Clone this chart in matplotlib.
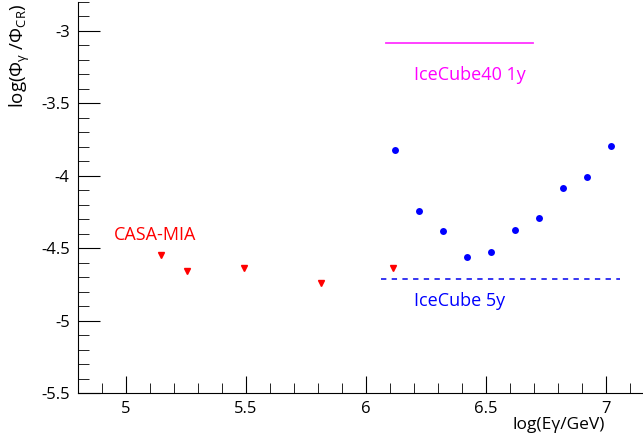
import matplotlib
matplotlib.use("Agg")
import matplotlib.pyplot as plt
from matplotlib.ticker import MultipleLocator, FormatStrFormatter

plt.rcParams['font.family'] = ['Open Sans', 'DejaVu Sans']
plt.rcParams['axes.unicode_minus'] = False
plt.rcParams['mathtext.fontset'] = 'custom'
plt.rcParams['mathtext.rm'] = 'Open Sans'
plt.rcParams['mathtext.it'] = 'Open Sans'

# IceCube (blue circles)
ic_x = [6.12, 6.22, 6.32, 6.42, 6.52, 6.62, 6.72, 6.82, 6.92, 7.02]
ic_y = [-3.82, -4.244, -4.378, -4.558, -4.528, -4.375, -4.291, -4.083, -4.006, -3.795]

# CASA-MIA (red down triangles)
casa_x = [5.146, 5.255, 5.492, 5.8125, 6.114]
casa_y = [-4.549, -4.655, -4.634, -4.741, -4.634]

# IceCube40 1y (magenta line)
ic40_x = [6.083, 6.696]
ic40_y = [-3.086, -3.086]

# IceCube 5y (blue dashed)
ic5_x = [6.0625, 7.06]
ic5_y = [-4.713, -4.713]

fig = plt.figure(figsize=(6.43, 4.43), dpi=100)
ax = fig.add_axes([78/643, 50/443, 1 - 78/643, 391/443])

ax.plot(ic40_x, ic40_y, color='#ff33ff', lw=1.3)
ax.plot(ic5_x, ic5_y, color='#0000ee', lw=1.1, ls=(0, (3.5, 3.5)))
ax.plot(casa_x, casa_y, ls='none', marker='v', color='#ff0000', ms=4.5)
ax.plot(ic_x, ic_y, ls='none', marker='o', color='#0000ff', ms=5, mec='none')

ax.text(6.20, -3.305, 'IceCube40 1y', color='#ff00ff', fontsize=13, va='center', ha='left')
ax.text(6.20, -4.865, 'IceCube 5y', color='#0000ff', fontsize=13, va='center', ha='left')
ax.text(4.951, -4.408, 'CASA-MIA', color='#ff0000', fontsize=13, va='center', ha='left')

ax.set_xlim(4.8, 7.154)
ax.set_ylim(-5.5, -2.8)
ax.spines['top'].set_visible(False)
ax.spines['right'].set_visible(False)
ax.xaxis.set_major_locator(MultipleLocator(0.5))
ax.xaxis.set_minor_locator(MultipleLocator(0.1))
ax.yaxis.set_major_locator(MultipleLocator(0.5))
ax.yaxis.set_minor_locator(MultipleLocator(0.1))
ax.xaxis.set_major_formatter(FormatStrFormatter('%g'))
ax.yaxis.set_major_formatter(FormatStrFormatter('%g'))
ax.tick_params(which='both', direction='in', top=False, right=False, labelsize=12)
ax.tick_params(axis='y', which='major', length=16, pad=6)
ax.tick_params(axis='y', which='minor', length=8)
ax.tick_params(axis='x', which='major', length=12, pad=6)
ax.tick_params(axis='x', which='minor', length=7)

fig.text(605/643, 1 - 425/443, 'log(Eγ/GeV)', fontsize=12.5, ha='right', va='center')
fig.text(20/643, 1 - 3/443, r'log($\Phi_{\gamma}$ /$\Phi_{\rm CR}$)', fontsize=13.5,
         ha='center', va='top', rotation=90)

fig.savefig('out.png', dpi=100)
